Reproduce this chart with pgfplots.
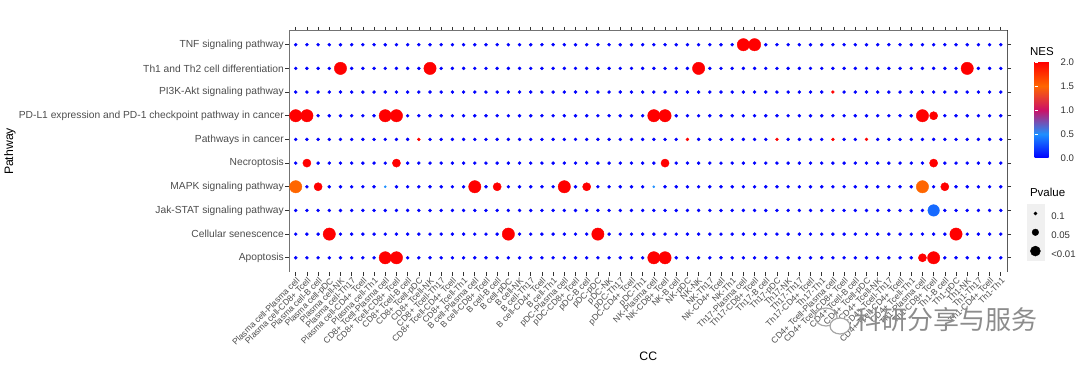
\documentclass[border=0pt]{standalone}
\usepackage{pgfplots}
\pgfplotsset{compat=1.18}
\usepackage{pgfplotstable}
\usepackage{fontspec}
\setmainfont{Liberation Sans}
\newfontfamily\cjk{Noto Sans CJK SC}
\definecolor{g30}{RGB}{77,77,77}
\definecolor{g20}{RGB}{51,51,51}
\pgfplotsset{colormap={nes}{rgb255(0cm)=(0,0,255); rgb255(1cm)=(30,144,255); rgb255(2cm)=(204,17,102); rgb255(3cm)=(255,102,0); rgb255(4cm)=(255,0,0)}}

% background grid: NES ~ 0, p ~ 1 (nan where a coloured point sits)
\pgfplotstableread{
x r1 r2 r3 r4 r5 r6 r7 r8 r9 r10
0 1 2 3 nan 5 6 nan 8 9 10
1 1 2 3 4 nan 6 nan 8 9 10
2 1 2 3 nan 5 6 7 8 9 10
3 1 nan 3 4 5 6 7 8 9 10
4 1 2 3 4 5 6 7 8 nan 10
5 1 2 3 4 5 6 7 8 9 10
6 1 2 3 4 5 6 7 8 9 10
7 1 2 3 4 5 6 7 8 9 10
8 nan 2 3 nan 5 6 nan 8 9 10
9 nan 2 3 4 nan 6 nan 8 9 10
10 1 2 3 4 5 6 7 8 9 10
11 1 2 3 4 5 nan 7 8 9 10
12 1 2 3 4 5 6 7 8 nan 10
13 1 2 3 4 5 6 7 8 9 10
14 1 2 3 4 5 6 7 8 9 10
15 1 2 3 4 5 6 7 8 9 10
16 1 2 3 nan 5 6 7 8 9 10
17 1 2 3 4 5 6 7 8 9 10
18 1 2 3 nan 5 6 7 8 9 10
19 1 nan 3 4 5 6 7 8 9 10
20 1 2 3 4 5 6 7 8 9 10
21 1 2 3 4 5 6 7 8 9 10
22 1 2 3 4 5 6 7 8 9 10
23 1 2 3 4 5 6 7 8 9 10
24 1 2 3 nan 5 6 7 8 9 10
25 1 2 3 4 5 6 7 8 9 10
26 1 2 3 nan 5 6 7 8 9 10
27 1 nan 3 4 5 6 7 8 9 10
28 1 2 3 4 5 6 7 8 9 10
29 1 2 3 4 5 6 7 8 9 10
30 1 2 3 4 5 6 7 8 9 10
31 1 2 3 4 5 6 7 8 9 10
32 nan 2 3 nan 5 6 nan 8 9 10
33 nan 2 3 4 nan 6 nan 8 9 10
34 1 2 3 4 5 6 7 8 9 10
35 1 2 3 4 5 nan 7 8 9 10
36 1 2 3 4 5 6 7 8 nan 10
37 1 2 3 4 5 6 7 8 9 10
38 1 2 3 4 5 6 7 8 9 10
39 1 2 3 4 5 6 7 8 9 10
40 1 2 3 4 5 6 7 8 9 nan
41 1 2 3 4 5 6 7 8 9 nan
42 1 2 3 4 5 6 7 8 9 10
43 1 2 3 4 5 nan 7 8 9 10
44 1 2 3 4 5 6 7 8 9 10
45 1 2 3 4 5 6 7 8 9 10
46 1 2 3 4 5 6 7 8 9 10
47 1 2 3 4 5 6 7 8 9 10
48 1 2 3 4 5 nan 7 nan 9 10
49 1 2 3 4 5 6 7 8 9 10
50 1 2 3 4 5 6 7 8 9 10
51 1 2 3 4 5 nan 7 8 9 10
52 1 2 3 4 5 6 7 8 9 10
53 1 2 3 4 5 6 7 8 9 10
54 1 2 3 4 5 6 7 8 9 10
55 1 2 3 4 5 6 7 8 9 10
56 nan 2 3 nan 5 6 nan 8 9 10
57 nan 2 nan 4 nan 6 nan 8 9 10
58 1 2 3 nan 5 6 7 8 9 10
59 1 nan 3 4 5 6 7 8 9 10
60 1 2 3 4 5 6 7 8 nan 10
61 1 2 3 4 5 6 7 8 9 10
62 1 2 3 4 5 6 7 8 9 10
63 1 2 3 4 5 6 7 8 9 10
}\bg

% coloured points: column, pathway row, NES, marker radius (bp)
\pgfplotstableread{
x y nes r
0 4 1.5 6.2
0 7 2 6.2
1 5 2 4.1
1 7 2 6.2
2 4 2 4.1
3 2 2 6.2
4 9 2 6.2
8 1 2 6.2
8 4 0.5 1.1
8 7 2 6.2
9 1 2 6.2
9 5 2 4.1
9 7 2 6.2
11 6 2 1.5
12 9 2 6.2
16 4 2 6.2
18 4 2 4.1
19 2 2 6.2
24 4 2 6.2
26 4 2 4.1
27 2 2 6.2
32 1 2 6.2
32 4 0.5 1.1
32 7 2 6.2
33 1 2 6.2
33 5 2 4.1
33 7 2 6.2
35 6 2 1.5
36 9 2 6.2
40 10 2 6.2
41 10 2 6.2
43 6 2 1.5
48 6 2 1.5
48 8 2 1.5
51 6 2 1.5
56 1 2 4.1
56 4 1.5 6.2
56 7 2 6.2
57 1 2 6.2
57 3 0.37 5.8
57 5 2 4.1
57 7 2 4.1
58 4 2 4.1
59 2 2 6.2
60 9 2 6.2
}\hl

\begin{document}
\begin{tikzpicture}
\begin{axis}[
  at={(289bp,96bp)}, anchor=south west, scale only axis,
  width=718.5bp, height=241.5bp,
  xmin=-0.6, xmax=63.6, ymin=0.4, ymax=10.6,
  xtick={0,...,63},
  xticklabels={Plasma cell-Plasma cell,Plasma cell-CD8+ Tcell,Plasma cell-B cell,Plasma cell-pDC,Plasma cell-NK,Plasma cell-Th17,Plasma cell-CD4+ Tcell,Plasma cell-Th1,
  CD8+ Tcell-Plasma cell,CD8+ Tcell-CD8+ Tcell,CD8+ Tcell-B cell,CD8+ Tcell-pDC,CD8+ Tcell-NK,CD8+ Tcell-Th17,CD8+ Tcell-CD4+ Tcell,CD8+ Tcell-Th1,
  B cell-Plasma cell,B cell-CD8+ Tcell,B cell-B cell,B cell-pDC,B cell-NK,B cell-Th17,B cell-CD4+ Tcell,B cell-Th1,
  pDC-Plasma cell,pDC-CD8+ Tcell,pDC-B cell,pDC-pDC,pDC-NK,pDC-Th17,pDC-CD4+ Tcell,pDC-Th1,
  NK-Plasma cell,NK-CD8+ Tcell,NK-B cell,NK-pDC,NK-NK,NK-Th17,NK-CD4+ Tcell,NK-Th1,
  Th17-Plasma cell,Th17-CD8+ Tcell,Th17-B cell,Th17-pDC,Th17-NK,Th17-Th17,Th17-CD4+ Tcell,Th17-Th1,
  CD4+ Tcell-Plasma cell,CD4+ Tcell-CD8+ Tcell,CD4+ Tcell-B cell,CD4+ Tcell-pDC,CD4+ Tcell-NK,CD4+ Tcell-Th17,CD4+ Tcell-CD4+ Tcell,CD4+ Tcell-Th1,
  Th1-Plasma cell,Th1-CD8+ Tcell,Th1-B cell,Th1-pDC,Th1-NK,Th1-Th17,Th1-CD4+ Tcell,Th1-Th1},
  ytick={1,...,10},
  yticklabels={Apoptosis,Cellular senescence,Jak-STAT signaling pathway,MAPK signaling pathway,Necroptosis,Pathways in cancer,PD-L1 expression and PD-1 checkpoint pathway in cancer,PI3K-Akt signaling pathway,Th1 and Th2 cell differentiation,TNF signaling pathway},
  tick align=outside, major tick length=3.5bp,
  tick style={g20, line width=0.6bp},
  xticklabel style={rotate=45, anchor=north east, font=\fontsize{8.6bp}{9bp}\selectfont, text=g30, inner sep=1bp},
  yticklabel style={font=\fontsize{10.25bp}{11bp}\selectfont, text=g30, inner sep=1.5bp},
  axis line style={draw=none},
  colormap name=nes, point meta min=0, point meta max=2,
  colorbar,
  colorbar style={at={(parent axis.south east)}, anchor=south west, xshift=18.5bp, yshift=114bp,
    scale only axis, width=19bp, height=96bp,
    ytick={0,0.5,1,1.5,2}, yticklabels={0.0,0.5,1.0,1.5,2.0},
    yticklabel style={font=\fontsize{9.6bp}{10bp}\selectfont, text=black!80, inner sep=0pt, xshift=7bp},
    major tick length=3.5bp, tick style={white, line width=0.8bp}, tick align=inside,
    axis line style={draw=none}},
  legend cell align=left,
  legend style={at={(axis description cs:1.02644,0.2812)}, anchor=north west, draw=none, fill=none,
    inner sep=0pt, outer sep=0pt, row sep=0pt, column sep=7bp,
    nodes={inner sep=0pt, font=\fontsize{9.6bp}{10bp}\selectfont, text=black!80}},
  legend image code/.code={\fill[black!6] (0bp,-5.7bp) rectangle (17.4bp,12.7bp); \draw[#1] plot coordinates {(8.7bp,3.5bp)};},
]
\addlegendimage{only marks, mark=*, black, mark size=1.6bp}
\addlegendentry{0.1}
\addlegendimage{only marks, mark=*, black, mark size=3.3bp}
\addlegendentry{0.05}
\addlegendimage{only marks, mark=*, black, mark size=5bp}
\addlegendentry{<0.01}
\pgfplotsinvokeforeach{1,...,10}{
  \addplot[only marks, mark=*, mark size=1.55bp, color=blue, forget plot] table[x=x, y=r#1] {\bg};
}
\addplot[scatter, only marks, mark=*, forget plot, point meta=explicit,
  scatter/use mapped color={draw=mapped color, fill=mapped color},
  visualization depends on={\thisrow{r} \as \rr},
  scatter/@pre marker code/.append style={/tikz/mark size=\rr}]
  table[x=x, y=y, meta=nes] {\hl};
\draw[black!55, line width=0.8bp] (rel axis cs:0,0) -- (rel axis cs:0,1) -- (rel axis cs:1,1);
\draw[black, line width=0.9bp] (rel axis cs:0,0) -- (rel axis cs:1,0) -- (rel axis cs:1,1);
\end{axis}
\node[anchor=west, font=\fontsize{11.5bp}{12bp}\selectfont] at (1026.5bp,316.3bp) {NES};
\node[anchor=west, font=\fontsize{11.5bp}{12bp}\selectfont] at (1026.5bp,176bp) {Pvalue};
\node[rotate=90, font=\fontsize{12.25bp}{13bp}\selectfont] at (10bp,216.5bp) {Pathway};
\node[font=\fontsize{12.25bp}{13bp}\selectfont] at (648.25bp,12bp) {CC};
\node[anchor=west, text=black!45, font=\cjk\fontsize{26bp}{28bp}\selectfont] at (852bp,48bp) {科研分享与服务};
\draw[black!35, line width=1.2bp] (826bp,51bp) ellipse (11bp and 9bp);
\draw[black!35, line width=1.2bp, fill=white] (840bp,42bp) ellipse (10bp and 8bp);
\pgfresetboundingbox
\path[use as bounding box] (0,0) rectangle (1080bp,368bp);
\end{tikzpicture}
\end{document}
